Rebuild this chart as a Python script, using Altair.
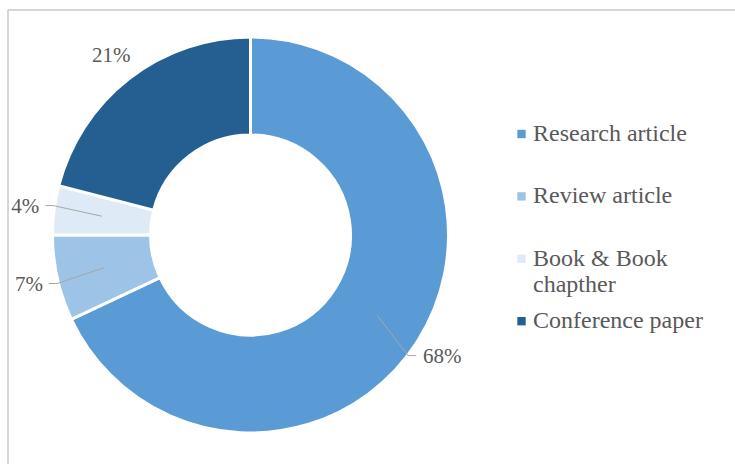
import altair as alt
import pandas as pd

categories = ["Research article", "Review article", "Book & Book chapther", "Conference paper"]
values = [68, 7, 4, 21]
legend_labels = ["Research article", "Review article", "Book & Book\nchapther", "Conference paper"]
has_leader = [True, True, True, False]
colors = ["#5B9BD5", "#9DC3E6", "#DEEBF7", "#255E91"]

df = pd.DataFrame({
    "category": categories,
    "value": values,
    "order": list(range(len(categories))),
    "legend_label": legend_labels,
    "leader": has_leader,
})

W, H = 735, 464
CX, CY = 250.5, 235
R_IN, R_OUT = 100, 198
R_LABEL = 227
R_LEAD = 150
FONT = "Liberation Serif"

xs = alt.Scale(domain=[0, W], range=[0, W])
ys = alt.Scale(domain=[0, H], range=[0, H])
color_scale = alt.Scale(domain=categories, range=colors)

base = alt.Chart(df).transform_window(
    cum="sum(value)", sort=[alt.SortField("order")], frame=[None, 0]
).transform_joinaggregate(
    total="sum(value)"
).transform_calculate(
    mid="2*PI*(datum.cum - datum.value/2)/datum.total",
    label="datum.value + '%'",
).transform_calculate(
    s="sin(datum.mid)", c="cos(datum.mid)"
).transform_calculate(
    lx=f"{CX} + {R_LABEL}*datum.s",
    ly=f"{CY} - {R_LABEL}*datum.c",
    ix=f"{CX} + {R_LEAD}*datum.s",
    iy=f"{CY} - {R_LEAD}*datum.c",
).transform_calculate(
    ex="datum.lx - (datum.s > 0 ? 1 : -1)*(length(datum.label)*6 + 8)",
    ey="datum.ly - 1",
).transform_calculate(
    kx="datum.ex - (datum.s > 0 ? 1 : -1)*8",
    legy="134 + datum.order*62.4",
)

arcs = alt.Chart(df).mark_arc(
    innerRadius=R_IN, outerRadius=R_OUT, stroke="white", strokeWidth=3
).encode(
    theta=alt.Theta("value:Q", stack=True),
    color=alt.Color("category:N", scale=color_scale, legend=None),
    order=alt.Order("order:Q"),
    x=alt.value(CX),
    y=alt.value(CY),
)

labels = base.mark_text(
    font=FONT, fontSize=21, color="#595959", align="center", baseline="middle"
).encode(
    x=alt.X("lx:Q", scale=xs, axis=None),
    y=alt.Y("ly:Q", scale=ys, axis=None),
    text="label:N",
)

lead1 = base.transform_filter("datum.leader").mark_rule(color="#A6A6A6", strokeWidth=1).encode(
    x=alt.X("ix:Q", scale=xs, axis=None),
    y=alt.Y("iy:Q", scale=ys, axis=None),
    x2="kx:Q",
    y2="ey:Q",
)
lead2 = base.transform_filter("datum.leader").mark_rule(color="#A6A6A6", strokeWidth=1).encode(
    x=alt.X("kx:Q", scale=xs, axis=None),
    y=alt.Y("ey:Q", scale=ys, axis=None),
    x2="ex:Q",
)

leg_sym = base.mark_square(size=70, opacity=1).encode(
    x=alt.X("sx:Q", scale=xs, axis=None),
    y=alt.Y("legy:Q", scale=ys, axis=None),
    color=alt.Color("category:N", scale=color_scale, legend=None),
).transform_calculate(sx="521.5")

leg_txt = base.mark_text(
    font=FONT, fontSize=24, color="#595959", align="left",
    baseline="alphabetic", dy=7, lineBreak="\n", lineHeight=26,
).encode(
    x=alt.X("tx:Q", scale=xs, axis=None),
    y=alt.Y("legy:Q", scale=ys, axis=None),
    text="legend_label:N",
).transform_calculate(tx="533")

frame_top = alt.Chart(df).mark_rule(color="#D6D6D6", strokeWidth=1.5).encode(
    x=alt.value(8), x2=alt.value(W), y=alt.value(10)
)
frame_left = alt.Chart(df).mark_rule(color="#D6D6D6", strokeWidth=1.5).encode(
    x=alt.value(8), y=alt.value(10), y2=alt.value(H)
)

chart = alt.layer(
    frame_top, frame_left, arcs, lead1, lead2, labels, leg_sym, leg_txt
).properties(
    width=W, height=H, autosize=alt.AutoSizeParams(type="none"), padding=0
).configure_view(stroke=None)

chart.save("out.html", embed_options={"renderer": "svg", "actions": False})
